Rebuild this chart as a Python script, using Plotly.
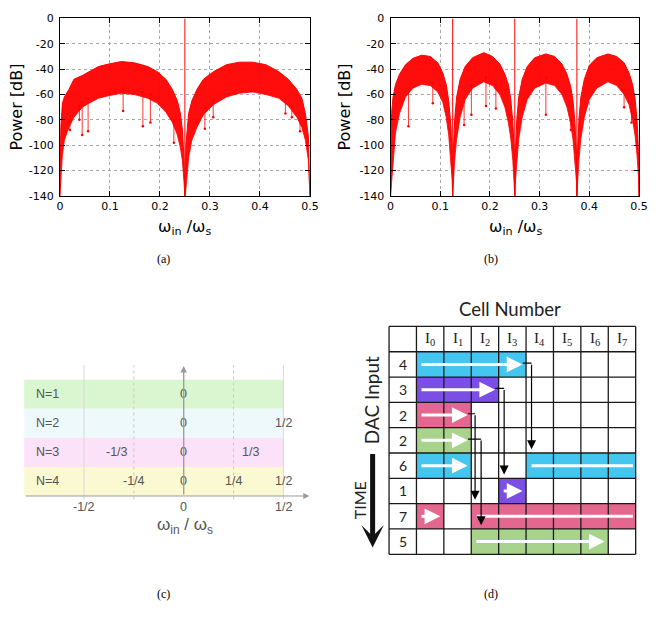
import numpy as np
import plotly.graph_objects as go

W, H = 663, 619
def PX(x): return x / W
def PY(y): return 1 - y / H

# ---------------- Panel (a): spectrum envelopes ----------------
a_x  = [0.000, 0.002, 0.005, 0.009, 0.018, 0.028, 0.045, 0.058, 0.077, 0.097, 0.123, 0.149, 0.176, 0.195, 0.212, 0.225, 0.235, 0.241, 0.245, 0.248, 0.250,
        0.252, 0.2575, 0.264, 0.274, 0.287, 0.307, 0.333, 0.359, 0.385, 0.412, 0.438, 0.457, 0.474, 0.484, 0.491, 0.497, 0.500]
a_up = [-140, -85, -67, -62, -56, -48, -45, -42, -38, -36, -34, -35, -38, -42, -48, -56, -65, -75, -88, -108, -140,
        -100, -75, -65, -56, -48, -42, -36.5, -34.5, -34.5, -36.5, -42, -48, -56, -63, -75, -93, -140]
a_lo = [-140, -125, -108, -96, -86, -78, -70, -67, -63, -61, -59, -60, -63, -67, -74, -82, -92, -102, -112, -128, -140,
        -135, -110, -96, -86, -76, -68, -62, -59, -58, -60, -63, -69, -78, -86, -96, -112, -140]
a_spike_x = [0.020, 0.039, 0.0446, 0.0564, 0.1265, 0.166, 0.181, 0.228, 0.274, 0.290, 0.3067, 0.451, 0.464, 0.4803]
a_spike_y = [-88, -80, -92, -89, -73, -85, -82, -98, -83, -87, -78, -75, -78, -89]
a_tones = [0.25]

# ---------------- Panel (b) ----------------
b_x  = [0.000, 0.002, 0.005, 0.010, 0.018, 0.030, 0.045, 0.0625, 0.080, 0.095, 0.105, 0.112, 0.117, 0.121, 0.124, 0.125,
        0.126, 0.129, 0.133, 0.140, 0.150, 0.165, 0.1875, 0.205, 0.220, 0.230, 0.237, 0.242, 0.246, 0.249, 0.250,
        0.251, 0.254, 0.258, 0.265, 0.275, 0.290, 0.3125, 0.330, 0.345, 0.355, 0.362, 0.367, 0.371, 0.374, 0.375,
        0.376, 0.379, 0.383, 0.390, 0.400, 0.415, 0.4375, 0.455, 0.470, 0.480, 0.487, 0.492, 0.496, 0.499, 0.500]
b_up = [-140, -75, -62, -52, -44, -36.5, -31.5, -29, -30, -35, -43, -52, -65, -83, -106, -140,
        -108, -80, -62, -48, -38, -31, -27, -30, -36, -44, -52, -64, -82, -105, -140,
        -108, -80, -62, -48, -38, -31, -28, -30, -36, -44, -53, -64, -82, -105, -140,
        -108, -80, -62, -48, -37, -31, -28, -30, -35, -43, -52, -63, -80, -105, -140]
b_lo = [-140, -130, -110, -90, -75, -62, -55, -52, -53, -58, -66, -78, -92, -110, -128, -140,
        -130, -112, -95, -78, -64, -55, -50, -53, -60, -70, -82, -95, -112, -128, -140,
        -130, -112, -95, -78, -64, -55, -51, -53, -60, -70, -82, -95, -112, -128, -140,
        -130, -112, -95, -78, -64, -55, -50, -53, -60, -68, -80, -92, -108, -125, -140]
b_spike_x = [0.036, 0.085, 0.148, 0.1626, 0.192, 0.212, 0.3126, 0.363, 0.470, 0.485]
b_spike_y = [-85, -67, -84, -76, -69, -71, -76, -88, -70, -82]
b_tones = [0.125, 0.25, 0.375]

spec_xticks = [0, 0.1, 0.2, 0.3, 0.4, 0.5]
spec_xlabels = ["0", "0.1", "0.2", "0.3", "0.4", "0.5"]
spec_yticks = [-140, -120, -100, -80, -60, -40, -20, 0]
spec_ylabels = ["-140", "-120", "-100", "-80", "-60", "-40", "-20", "0"]

# ---------------- Panel (c) ----------------
c_rows = ["N=1", "N=2", "N=3", "N=4"]
c_colors = ["#d9f6d1", "#eef9fc", "#fbe2f9", "#fbf9d2"]
c_marks = [[(0, "0")],
           [(0, "0"), (0.5, "1/2")],
           [(-1/3, "-1/3"), (0, "0"), (1/3, "1/3")],
           [(-0.25, "-1/4"), (0, "0"), (0.25, "1/4"), (0.5, "1/2")]]
c_ticks = [(-0.5, "-1/2"), (0, "0"), (0.5, "1/2")]
c_solid_grid = [-0.5, 0.5]
c_dot_grid = [-0.25, 0.25]

# ---------------- Panel (d) ----------------
d_inputs = [4, 3, 2, 2, 6, 1, 7, 5]
d_start = [0, 0, 0, 0, 4, 3, 2, 2]
d_colors = ["#45c6f0", "#7b4fe6", "#e3678f", "#a7d48a", "#45c6f0", "#7b4fe6", "#e3678f", "#a7d48a"]
d_headers = ["I<sub>0</sub>", "I<sub>1</sub>", "I<sub>2</sub>", "I<sub>3</sub>",
             "I<sub>4</sub>", "I<sub>5</sub>", "I<sub>6</sub>", "I<sub>7</sub>"]
n_cells = len(d_headers)
d_link_dx = [0.2, 0.2, 0.14, 0.36]

fig = go.Figure()
red = "#ff0000"

def spectrum(xs, up, lo, sx, sy, tones, xa, ya):
    fig.add_trace(go.Scatter(x=xs, y=lo, mode="lines", line=dict(color=red, width=0.8),
                             xaxis=xa, yaxis=ya, hoverinfo="skip", showlegend=False))
    fig.add_trace(go.Scatter(x=xs, y=up, mode="lines", line=dict(color=red, width=1),
                             fill="tonexty", fillcolor="rgba(255,0,0,0.95)",
                             xaxis=xa, yaxis=ya, hoverinfo="skip", showlegend=False))
    px_, py_ = [], []
    for x, y in zip(sx, sy):
        top = float(np.interp(x, xs, lo)) + 4
        px_ += [x, x, None]
        py_ += [top, y, None]
    fig.add_trace(go.Scatter(x=px_, y=py_, mode="lines+markers", line=dict(color=red, width=0.8),
                             marker=dict(size=2.5, color=red), xaxis=xa, yaxis=ya,
                             hoverinfo="skip", showlegend=False))
    tx, ty = [], []
    for t in tones:
        tx += [t, t, None]
        ty += [-140, 0, None]
    fig.add_trace(go.Scatter(x=tx, y=ty, mode="lines", line=dict(color=red, width=1),
                             xaxis=xa, yaxis=ya, hoverinfo="skip", showlegend=False))

spectrum(a_x, a_up, a_lo, a_spike_x, a_spike_y, a_tones, "x", "y")
spectrum(b_x, b_up, b_lo, b_spike_x, b_spike_y, b_tones, "x2", "y2")

axfont = dict(family="DejaVu Sans", size=11, color="black")
common = dict(showline=True, linecolor="black", linewidth=1, mirror="allticks", ticks="inside",
              ticklen=5, tickcolor="black", showgrid=True, gridcolor="#a8a8a8", griddash="dot",
              gridwidth=1, zeroline=False, tickfont=axfont, fixedrange=True)

fig.update_layout(
    xaxis=dict(domain=[PX(57), PX(312)], range=[0, 0.5], tickvals=spec_xticks, ticktext=spec_xlabels,
               anchor="y", **common),
    yaxis=dict(domain=[PY(194), PY(12.7)], range=[-140, 0], tickvals=spec_yticks, ticktext=spec_ylabels,
               anchor="x", ticklabelstandoff=3, **common),
    xaxis2=dict(domain=[PX(394.3), PX(647.7)], range=[0, 0.5], tickvals=spec_xticks, ticktext=spec_xlabels,
                anchor="y2", **common),
    yaxis2=dict(domain=[PY(194), PY(12.7)], range=[-140, 0], tickvals=spec_yticks, ticktext=spec_ylabels,
                anchor="x2", ticklabelstandoff=3, **common),
)

ann = []
shapes = []
def A(**kw):
    kw.setdefault("xanchor", "center")
    kw.setdefault("yanchor", "middle")
    ann.append(kw)

for cx in (184.5, 521.7):
    A(xref="paper", yref="paper", x=PX(cx), y=PY(226), text="ω<sub>in</sub> /ω<sub>s</sub>",
      showarrow=False, font=dict(family="DejaVu Sans", size=16, color="black"))
for cx in (13, 347.5):
    A(xref="paper", yref="paper", x=PX(cx), y=PY(103), text="Power [dB]", textangle=-90,
      showarrow=False, font=dict(family="DejaVu Sans", size=16, color="black"))
for cx, cy, t in ((163, 258, "(a)"), (496.5, 258, "(b)"), (163, 601, "(c)"), (497, 601, "(d)")):
    A(xref="paper", yref="paper", x=PX(cx), y=PY(cy), text=t, showarrow=False,
      font=dict(family="Liberation Serif", size=12, color="black"))

# ---------------- Panel (c) axes ----------------
c_x0, c_unit = 183.3, 203.4      # pixel of 0, pixels per unit
c_y0, c_row = 500.5, 29.7
c_l, c_r, c_t, c_b = 0, 330, 360, 560
fig.update_layout(
    xaxis3=dict(domain=[PX(c_l), PX(c_r)], range=[(c_l - c_x0) / c_unit, (c_r - c_x0) / c_unit],
                visible=False, anchor="y3", fixedrange=True),
    yaxis3=dict(domain=[PY(c_b), PY(c_t)], range=[-(c_b - c_y0) / c_row, (c_y0 - c_t) / c_row],
                visible=False, anchor="x3", fixedrange=True),
)
band_left, band_right = -0.8, 0.5
nrow = len(c_rows)
for i, (lab, col) in enumerate(zip(c_rows, c_colors)):
    y0 = nrow - 1 - i
    shapes.append(dict(type="rect", xref="x3", yref="y3", x0=band_left, x1=band_right, y0=y0, y1=y0 + 1,
                       fillcolor=col, line=dict(width=0), layer="below"))
for g in c_solid_grid:
    shapes.append(dict(type="line", xref="x3", yref="y3", x0=g, x1=g, y0=-0.12, y1=4.5,
                       line=dict(color="#d8d8d8", width=1)))
for g in c_dot_grid:
    shapes.append(dict(type="line", xref="x3", yref="y3", x0=g, x1=g, y0=-0.12, y1=4.5,
                       line=dict(color="#c8c8c8", width=1, dash="dot")))
cfont = dict(family="Liberation Sans", size=12.5, color="#555555")
for i, (lab, marks) in enumerate(zip(c_rows, c_marks)):
    yc = nrow - 1 - i + 0.5
    A(xref="x3", yref="y3", x=-0.75, y=yc, text=lab, showarrow=False, xanchor="left", font=cfont)
    for v, t in marks:
        A(xref="x3", yref="y3", x=v, y=yc, text=t, showarrow=False, font=cfont)
for v, t in c_ticks:
    A(xref="x3", yref="y3", x=v, y=-0.38, text=t, showarrow=False, font=cfont)
A(xref="x3", yref="y3", x=0.005, y=-1.02, text="ω<sub>in</sub> / ω<sub>s</sub>", showarrow=False,
  font=dict(family="Liberation Sans", size=17, color="#555555"))
# axis arrows
A(xref="x3", yref="y3", x=0.63, y=0, axref="x3", ayref="y3", ax=band_left, ay=0, text="",
  showarrow=True, arrowhead=2, arrowsize=1.2, arrowwidth=1, arrowcolor="#9a9a9a")
A(xref="x3", yref="y3", x=0, y=4.47, axref="x3", ayref="y3", ax=0, ay=0, text="",
  showarrow=True, arrowhead=2, arrowsize=1.0, arrowwidth=1.3, arrowcolor="#9a9a9a")

# ---------------- Panel (d) axes ----------------
d_x0, d_cw = 420.7, 27.95
d_y0, d_rh = 353.16, 25.86
d_l, d_r, d_t, d_b = 355, 663, 290, 580
fig.update_layout(
    xaxis4=dict(domain=[PX(d_l), PX(d_r)], range=[(d_l - d_x0) / d_cw, (d_r - d_x0) / d_cw],
                visible=False, anchor="y4", fixedrange=True),
    yaxis4=dict(domain=[PY(d_b), PY(d_t)], range=[(d_b - d_y0) / d_rh, (d_t - d_y0) / d_rh],
                visible=False, anchor="x4", fixedrange=True),
)
nrows = len(d_inputs)
runs = []
for r, (n, s, col) in enumerate(zip(d_inputs, d_start, d_colors)):
    cells = [(s + k) % n_cells for k in range(n)]
    for c in cells:
        shapes.append(dict(type="rect", xref="x4", yref="y4", x0=c, x1=c + 1, y0=r, y1=r + 1,
                           fillcolor=col, line=dict(width=0)))
    segs = []
    cur = [cells[0], cells[0] + 1]
    for c in cells[1:]:
        if c == cur[1]:
            cur[1] = c + 1
        else:
            segs.append(cur)
            cur = [c, c + 1]
    segs.append(cur)
    runs.append(segs)
# grid
for c in range(-1, n_cells + 1):
    shapes.append(dict(type="line", xref="x4", yref="y4", x0=c, x1=c, y0=-1, y1=nrows,
                       line=dict(color="#1a1a1a", width=1.3)))
for r in range(-1, nrows + 1):
    shapes.append(dict(type="line", xref="x4", yref="y4", x0=-1, x1=n_cells, y0=r, y1=r,
                       line=dict(color="#1a1a1a", width=1.3)))
# white arrows
for r, segs in enumerate(runs):
    yc = r + 0.5
    for k, (a, b) in enumerate(segs):
        last = (k == len(segs) - 1)
        if last:
            A(xref="x4", yref="y4", x=b - 0.13, y=yc, axref="x4", ayref="y4", ax=a + 0.13, ay=yc,
              text="", showarrow=True, arrowhead=2, arrowsize=1.05, arrowwidth=3, arrowcolor="white")
        else:
            shapes.append(dict(type="line", xref="x4", yref="y4", x0=a + 0.2, x1=b - 0.1, y0=yc, y1=yc,
                               line=dict(color="white", width=3)))
# black link arrows: end of a run -> start of next run with the same colour
li = 0
for r in range(nrows):
    nxt = [j for j in range(r + 1, nrows) if d_colors[j] == d_colors[r]]
    if not nxt:
        continue
    j = nxt[0]
    end_col = runs[r][-1][1]
    xv = d_start[j] + d_link_dx[li]
    yh = r + 0.45
    shapes.append(dict(type="line", xref="x4", yref="y4", x0=end_col - 0.12, x1=xv, y0=yh, y1=yh,
                       line=dict(color="black", width=1.2)))
    A(xref="x4", yref="y4", x=xv, y=j - 0.15, axref="x4", ayref="y4", ax=xv, ay=yh,
      text="", showarrow=True, arrowhead=2, arrowsize=1.5, arrowwidth=1.2, arrowcolor="black")
    li += 1
# labels
for c, h in enumerate(d_headers):
    A(xref="x4", yref="y4", x=c + 0.5, y=-0.5, text=h, showarrow=False,
      font=dict(family="Liberation Serif", size=15, color="#222222"))
for r, n in enumerate(d_inputs):
    A(xref="x4", yref="y4", x=-0.5, y=r + 0.5, text=str(n), showarrow=False,
      font=dict(family="Lato", size=14, color="#222222"))
A(xref="paper", yref="paper", x=PX(516), y=PY(310), text="Cell Number", showarrow=False,
  font=dict(family="Lato", size=18.5, color="#222222"))
A(xref="paper", yref="paper", x=PX(375), y=PY(403), text="DAC Input", textangle=-90,
  showarrow=False, font=dict(family="Lato", size=19, color="#222222"))
A(xref="paper", yref="paper", x=PX(363), y=PY(505), text="TIME", textangle=-90,
  showarrow=False, font=dict(family="Lato", size=16, color="#222222"))
A(xref="paper", yref="paper", x=PX(376), y=PY(553), ax=0, ay=-95, text="",
  showarrow=True, arrowhead=3, arrowsize=0.75, arrowwidth=5, arrowcolor="#111111")

fig.update_layout(width=W, height=H, margin=dict(l=0, r=0, t=0, b=0),
                  paper_bgcolor="white", plot_bgcolor="rgba(0,0,0,0)",
                  showlegend=False, annotations=ann, shapes=shapes)
fig.write_html("out.html")
